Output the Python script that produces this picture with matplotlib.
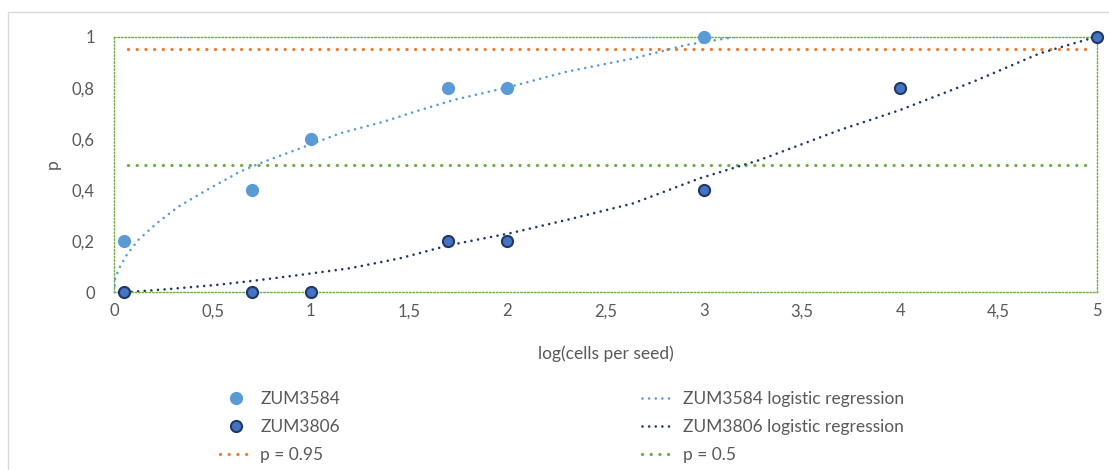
import numpy as np
import matplotlib.pyplot as plt
from matplotlib.patches import Rectangle

plt.rcParams['font.family'] = ['Lato', 'DejaVu Sans']

# observed proportions
x_3584 = [0.05, 0.7, 1.0, 1.7, 2.0, 3.0]
p_3584 = [0.2, 0.4, 0.6, 0.8, 0.8, 1.0]
x_3806 = [0.05, 0.7, 1.0, 1.7, 2.0, 3.0, 4.0, 5.0]
p_3806 = [0.0, 0.0, 0.0, 0.2, 0.2, 0.4, 0.8, 1.0]

# fitted curves
fit_x_3584 = [0.0, 0.004, 0.029, 0.063, 0.122, 0.216, 0.326, 0.47, 0.64, 0.742, 0.945, 1.149,
              1.369, 1.556, 1.725, 2.014, 2.302, 2.641, 2.913, 3.167]
fit_p_3584 = [0.0, 0.055, 0.10, 0.146, 0.205, 0.27, 0.335, 0.40, 0.472, 0.505, 0.563, 0.622,
              0.667, 0.713, 0.752, 0.804, 0.863, 0.915, 0.968, 1.0]
fit_x_3806 = [0.054, 0.267, 0.521, 0.707, 0.945, 1.199, 1.454, 1.708, 2.014, 2.302, 2.641,
              2.98, 3.286, 3.693, 3.999, 4.372, 4.711, 5.0]
fit_p_3806 = [0.0, 0.012, 0.029, 0.045, 0.068, 0.094, 0.133, 0.185, 0.231, 0.283, 0.348,
              0.446, 0.518, 0.635, 0.713, 0.824, 0.935, 1.0]

thr_x = [0.07, 4.96]
p95 = 0.95
p50 = 0.5

c_light = '#5B9BD5'
c_dark_fill = '#4472C4'
c_dark_edge = '#1F3864'
c_orange = '#ED7D31'
c_green = '#70AD47'
c_text = '#595959'

fig = plt.figure(figsize=(11.09, 4.7), dpi=100)
fig.patches.append(Rectangle((8 / 1109, -0.1), 1.2, 1 - 12 / 470 + 0.1, transform=fig.transFigure,
                             fill=False, edgecolor='#D9D9D9', linewidth=1))
ax = fig.add_axes([114.3 / 1109, 1 - 292.3 / 470, (1096.7 - 114.3) / 1109, 255.6 / 470])

dot = (0, (0.01, 2.6))
dot_fine = (0, (0.01, 2.5))

ax.plot(thr_x, [p95, p95], color=c_orange, lw=2.4, linestyle=dot, dash_capstyle='round',
        label='p = 0.95', zorder=2)
ax.plot(thr_x, [p50, p50], color=c_green, lw=2.4, linestyle=dot, dash_capstyle='round',
        label='p = 0.5', zorder=2)
ax.plot(fit_x_3584, fit_p_3584, color=c_light, lw=1.9, linestyle=dot_fine, dash_capstyle='round',
        label='ZUM3584 logistic regression', zorder=3)
ax.plot(fit_x_3806, fit_p_3806, color=c_dark_edge, lw=1.9, linestyle=dot_fine, dash_capstyle='round',
        label='ZUM3806 logistic regression', zorder=3)
ax.plot(x_3584, p_3584, 'o', color=c_light, markersize=8.5, markeredgecolor=c_light,
        label='ZUM3584', zorder=4, clip_on=False)
ax.plot(x_3806, p_3806, 'o', color=c_dark_fill, markersize=8, markeredgecolor=c_dark_edge,
        markeredgewidth=1.5, label='ZUM3806', zorder=4, clip_on=False)

ax.set_xlim(0, 5)
ax.set_ylim(0, 1)
ax.set_xticks(np.arange(0, 5.01, 0.5))
ax.set_yticks(np.arange(0, 1.01, 0.2))
fmt = lambda v: ('%g' % round(v, 2)).replace('.', ',')
ax.set_xticklabels([fmt(v) for v in np.arange(0, 5.01, 0.5)])
ax.set_yticklabels([fmt(v) for v in np.arange(0, 1.01, 0.2)])
ax.tick_params(length=0, labelsize=12, labelcolor=c_text, pad=8)
ax.tick_params(axis='y', pad=14)
for s in ax.spines.values():
    s.set_color(c_green)
    s.set_linewidth(1)
    s.set_linestyle((0, (1, 1.5)))
ax.set_xlabel('log(cells per seed)', fontsize=12.5, color=c_text, labelpad=19)
ax.set_ylabel('p', fontsize=12.5, color=c_text, labelpad=8)

h = {l: hd for hd, l in zip(*ax.get_legend_handles_labels())}
order = ['ZUM3584', 'ZUM3806', 'p = 0.95',
         'ZUM3584 logistic regression', 'ZUM3806 logistic regression', 'p = 0.5']
leg = fig.legend([h[k] for k in order], order, loc='upper left', ncol=2,
                 bbox_to_anchor=(204 / 1109, 1 - 375 / 470), frameon=False, fontsize=12.5,
                 handlelength=1.9, handletextpad=0.45, columnspacing=17.4, labelspacing=0.7,
                 labelcolor=c_text)

fig.savefig('out.png', dpi=100)
